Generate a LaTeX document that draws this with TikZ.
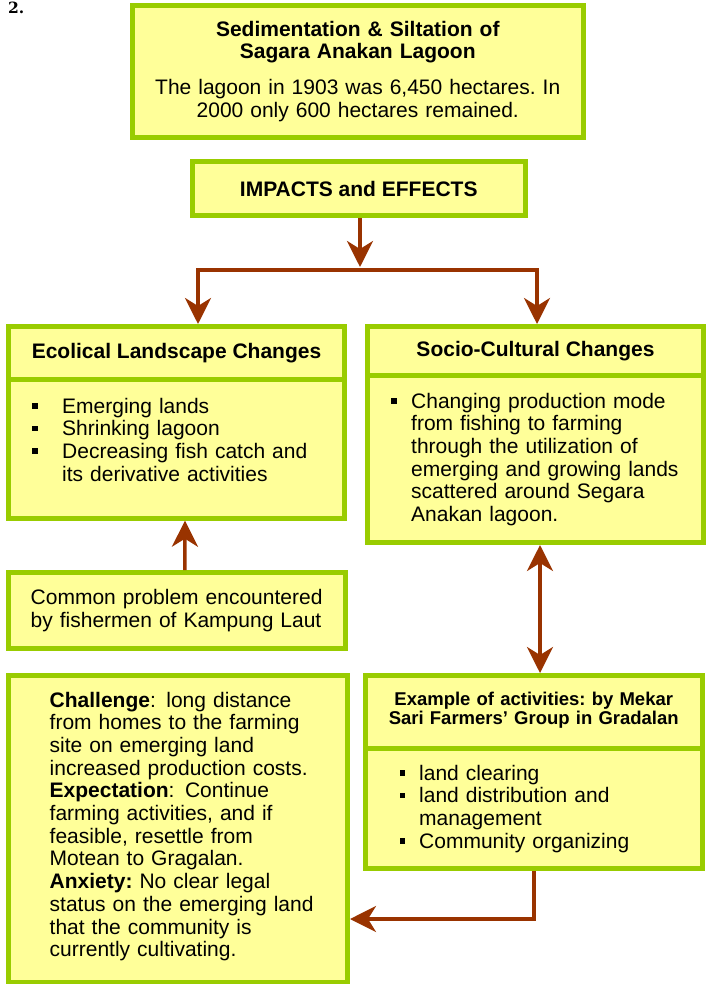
\documentclass[tikz,border=0pt]{standalone}
\usepackage{fontspec}
\setmainfont{Liberation Sans}
\newfontfamily\numfont{DejaVu Serif}
\usetikzlibrary{arrows.meta}

\definecolor{boxgreen}{HTML}{99CC00}
\definecolor{boxfill}{HTML}{FFFF99}
\definecolor{flowred}{HTML}{993300}

\newcommand{\bodyfont}{\fontsize{21}{22.7}\selectfont}
\newcommand{\smallhead}{\fontsize{18.5}{18.7}\selectfont\bfseries}
\newcommand{\numhead}{\fontsize{15.5}{15.5}\selectfont\numfont\bfseries}
\newcommand{\sqbul}[1]{\makebox[#1][l]{\rule[4.5pt]{5.5pt}{5.5pt}}}
\frenchspacing

\begin{document}
\begin{tikzpicture}[x=1pt, y=-1pt,
        box/.style={draw=boxgreen, fill=boxfill, line width=5pt, inner sep=0pt},
        txt/.style={anchor=base west, inner sep=0pt, align=left, font=\bodyfont},
        flow/.style={draw=flowred, line width=3.5pt, >={Stealth[length=26pt, width=26pt, inset=8pt]}}]
                \useasboundingbox (0, 0) rectangle (706, 984);

                \node[anchor=base west, inner sep=0pt, font=\numhead] (num) at (8, 14) {2.};

                \node[box, minimum width=450.5pt, minimum height=132.5pt] (lagoon) at (357.75, 71.75) {};
                \node[anchor=base, inner sep=0pt, text width=440pt, align=center, font=\fontsize{21}{22}\selectfont\bfseries] (lagoon title) at (357.75, 37) {Sedimentation \& Siltation of\\Sagara Anakan Lagoon};
                \node[anchor=base, inner sep=0pt, text width=440pt, align=center, font=\bodyfont] (lagoon text) at (357.75, 95) {The lagoon in 1903 was 6,450 hectares. In\\2000 only 600 hectares remained.};

                \node[box, minimum width=332.5pt, minimum height=54pt, font=\bodyfont\bfseries] (impacts) at (358.75, 188.9) {IMPACTS and EFFECTS};

                \node[box, minimum width=336pt, minimum height=53pt, font=\bodyfont\bfseries] (eco head) at (176.5, 353) {Ecolical Landscape Changes};
                \node[box, minimum width=336pt, minimum height=138.7pt] (eco body) at (176.5, 448.85) {};
                \node[txt, text width=305pt] (eco list) at (32, 413) {\sqbul{30pt}Emerging lands\\\sqbul{30pt}Shrinking lagoon\\\sqbul{30pt}Decreasing fish catch and\\\hspace*{30pt}its derivative activities};

                \node[box, minimum width=336pt, minimum height=49pt, font=\bodyfont\bfseries] (socio head) at (535.5, 351) {Socio-Cultural Changes};
                \node[box, minimum width=336pt, minimum height=167pt] (socio body) at (535.5, 459) {};
                \node[txt, text width=305pt] (socio list) at (391, 408) {\sqbul{20pt}Changing production mode\\\hspace*{20pt}from fishing to farming\\\hspace*{20pt}through the utilization of\\\hspace*{20pt}emerging and growing lands\\\hspace*{20pt}scattered around Segara\\\hspace*{20pt}Anakan lagoon.};

                \node[box, minimum width=336.7pt, minimum height=75.7pt] (common) at (176.85, 610.35) {};
                \node[txt, text width=310pt] (common text) at (30.5, 604.5) {Common problem encountered\\by fishermen of Kampung Laut};

                \node[box, minimum width=339pt, minimum height=306.8pt] (challenge) at (178, 828.6) {};
                \node[txt, text width=295pt] (challenge text) at (49.5, 707) {\textbf{Challenge}:\, long distance\\from homes to the farming\\site on emerging land\\increased production costs.\\\textbf{Expectation}:\, Continue\\farming activities, and if\\feasible, resettle from\\Motean to Gragalan.\\\textbf{Anxiety:} No clear legal\\status on the emerging land\\that the community is\\currently cultivating.};

                \node[box, minimum width=337.5pt, minimum height=72.5pt] (ex head) at (533.75, 711.75) {};
                \node[anchor=base, inner sep=0pt, text width=330pt, align=center, font=\smallhead] (ex title) at (533.75, 705.5) {Example of activities: by Mekar\\Sari Farmers’ Group in Gradalan};
                \node[box, minimum width=337.5pt, minimum height=120.5pt] (ex body) at (533.75, 808.25) {};
                \node[txt, text width=300pt] (ex list) at (399.5, 780) {\sqbul{19.5pt}land clearing\\\sqbul{19.5pt}land distribution and\\\hspace*{19.5pt}management\\\sqbul{19.5pt}Community organizing};

                \coordinate (split) at (360, 267);
                \coordinate (fork left) at (198, 270);
                \coordinate (fork right) at (537, 270);
                \coordinate (elbow) at (534, 919);

                % impacts -> fork
                \draw[flow, ->] (impacts.south -| split) -- (split);

                % fork -> eco head
                \draw[flow, ->] (fork right) -- (fork left) -- (fork left |- eco head.north);

                % fork -> socio head
                \draw[flow, ->] (fork left) -- (fork right) -- (fork right |- socio head.north);

                % common -> eco body
                \draw[flow, ->] ([xshift=8pt]common.north) -- ([xshift=8.5pt]eco body.south);

                % socio body <-> ex head
                \draw[flow, <->] ([xshift=4.5pt]socio body.south) -- ([xshift=4.5pt]socio body.south |- ex head.north);

                % ex body -> challenge
                \draw[flow, ->] (ex body.south) |- (elbow -| challenge.east);

\end{tikzpicture}
\end{document}
